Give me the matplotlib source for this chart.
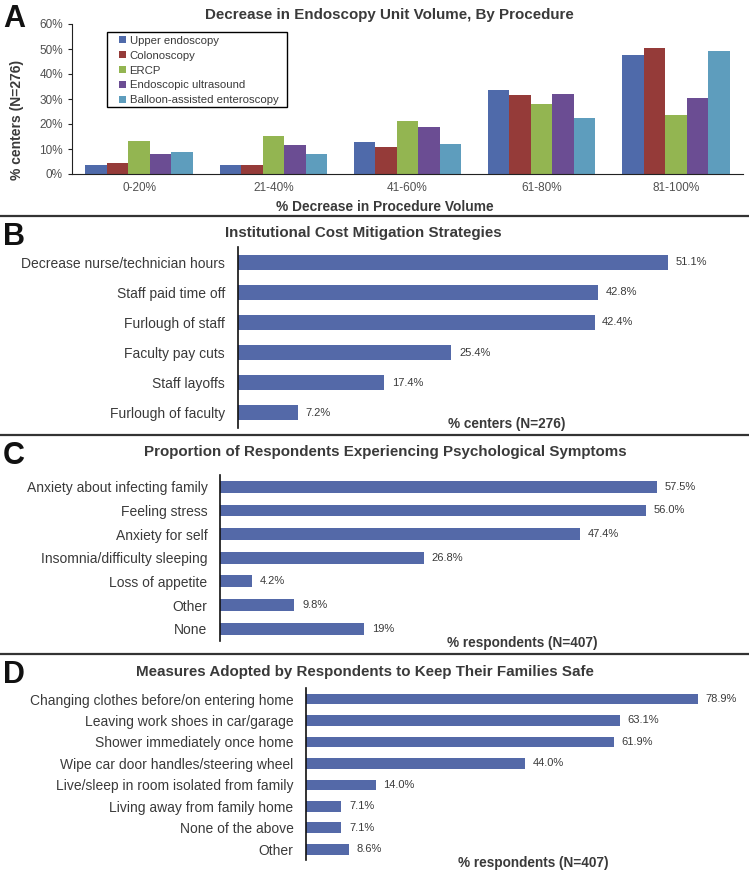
import matplotlib
matplotlib.use("Agg")
import matplotlib.pyplot as plt
from matplotlib.lines import Line2D
from matplotlib.patches import Rectangle
from matplotlib.ticker import PercentFormatter
import numpy as np

plt.rcParams['font.family'] = ['Liberation Sans', 'DejaVu Sans']

# ---------------- data ----------------
a_categories = ["0-20%", "21-40%", "41-60%", "61-80%", "81-100%"]
a_series = ["Upper endoscopy", "Colonoscopy", "ERCP", "Endoscopic ultrasound",
            "Balloon-assisted enteroscopy"]
a_upper = [3.4, 3.4, 12.7, 33.5, 47.5]
a_colon = [4.3, 3.5, 10.8, 31.5, 50.3]
a_ercp = [13.0, 15.1, 21.1, 28.0, 23.5]
a_eus = [7.8, 11.6, 18.8, 32.0, 30.3]
a_bae = [8.8, 8.1, 12.1, 22.3, 49.0]
a_colors = ["#4F6AAA", "#953B39", "#93B551", "#6B4D93", "#5E9DBD"]

b_labels = ["Decrease nurse/technician hours", "Staff paid time off", "Furlough of staff",
            "Faculty pay cuts", "Staff layoffs", "Furlough of faculty"]
b_values = [51.1, 42.8, 42.4, 25.4, 17.4, 7.2]
b_text = ["51.1%", "42.8%", "42.4%", "25.4%", "17.4%", "7.2%"]

c_labels = ["Anxiety about infecting family", "Feeling stress", "Anxiety for self",
            "Insomnia/difficulty sleeping", "Loss of appetite", "Other", "None"]
c_values = [57.5, 56.0, 47.4, 26.8, 4.2, 9.8, 19.0]
c_text = ["57.5%", "56.0%", "47.4%", "26.8%", "4.2%", "9.8%", "19%"]

d_labels = ["Changing clothes before/on entering home", "Leaving work shoes in car/garage",
            "Shower immediately once home", "Wipe car door handles/steering wheel",
            "Live/sleep in room isolated from family", "Living away from family home",
            "None of the above", "Other"]
d_values = [78.9, 63.1, 61.9, 44.0, 14.0, 7.1, 7.1, 8.6]
d_text = ["78.9%", "63.1%", "61.9%", "44.0%", "14.0%", "7.1%", "7.1%", "8.6%"]

BAR = "#5469A8"
TXT = "#3A3A3A"
TICK = "#505050"

W, H = 749, 872
fig = plt.figure(figsize=(W / 100, H / 100), dpi=100)


def axes_px(x0, y0, x1, y1):
    return fig.add_axes([x0 / W, 1 - y1 / H, (x1 - x0) / W, (y1 - y0) / H])


def ftext(x, y, s, **kw):
    fig.text(x / W, 1 - y / H, s, **kw)


def hline(y):
    fig.add_artist(Line2D([0, 1], [1 - y / H, 1 - y / H], color="#333333", lw=1.6,
                          transform=fig.transFigure))


def letter(y_base, s):
    ftext(3, y_base, s, fontsize=22, fontweight="bold", color="#111111", va="baseline")


TITLE_FS = 10.9

# ---------------- Panel A ----------------
A_X0, A_Y0, A_X1, A_Y1 = 72, 24, 743, 174
axA = axes_px(A_X0, A_Y0, A_X1, A_Y1)
x = np.arange(len(a_categories))
bw = 0.16
for i, (vals, col, name) in enumerate(zip([a_upper, a_colon, a_ercp, a_eus, a_bae],
                                          a_colors, a_series)):
    axA.bar(x + (i - 2) * bw, vals, width=bw, color=col, label=name)
axA.set_xlim(-0.5, len(a_categories) - 0.5)
axA.set_ylim(0, 60)
axA.set_yticks(np.arange(0, 61, 10))
axA.yaxis.set_major_formatter(PercentFormatter(decimals=0))
axA.set_xticks(x)
axA.set_xticklabels(a_categories)
axA.tick_params(axis="x", length=0, labelsize=8.5, colors=TICK, pad=6)
axA.tick_params(axis="y", length=3, labelsize=8.5, colors=TICK, direction="out")
axA.tick_params(axis="y", color="#222222")
for s in ["top", "right"]:
    axA.spines[s].set_visible(False)
axA.spines["left"].set_color("#222222")
axA.spines["bottom"].set_color("#222222")

# legend box (frame drawn separately to match the reference padding)
def ax_frac(px, py):
    return ((px - A_X0) / (A_X1 - A_X0), (A_Y1 - py) / (A_Y1 - A_Y0))

lx0, ly_top = ax_frac(107, 32)
lx1, ly_bot = ax_frac(287, 107)
axA.add_patch(Rectangle((lx0, ly_bot), lx1 - lx0, ly_top - ly_bot, transform=axA.transAxes,
                        facecolor="white", edgecolor="black", lw=1.0, zorder=4))
lgx, lgy = ax_frac(117, 33.5)
leg = axA.legend(loc="upper left", bbox_to_anchor=(lgx, lgy), borderaxespad=0,
                 fontsize=8.2, frameon=False,
                 handlelength=0.55, handleheight=0.55, handletextpad=0.35,
                 labelspacing=0.43, borderpad=0.2)
leg.set_zorder(5)
for t in leg.get_texts():
    t.set_color(TXT)

letter(27, "A")
ftext(389, 15, "Decrease in Endoscopy Unit Volume, By Procedure", fontsize=TITLE_FS,
      fontweight="bold", color=TXT, ha="center", va="center")
ftext(17, 120, "% centers (N=276)", fontsize=10, fontweight="bold", color=TXT,
      rotation=90, ha="center", va="center")
ftext(385, 207, "% Decrease in Procedure Volume", fontsize=9.9, fontweight="bold",
      color=TXT, ha="center", va="center")
hline(216)


# ---------------- horizontal bar panels ----------------
def hbar_panel(x0, y0, x1, y1, scale, labels, values, texts):
    ax = axes_px(x0, y0, x1, y1)
    pos = np.arange(len(labels))
    ax.barh(pos, values, height=0.5, color=BAR)
    ax.set_ylim(len(labels) - 0.5, -0.5)
    ax.set_xlim(0, (x1 - x0) / scale)
    ax.set_yticks(pos)
    ax.set_yticklabels(labels)
    ax.set_xticks([])
    ax.tick_params(axis="y", length=0, labelsize=10, colors=TXT, pad=9)
    for s in ["top", "right", "bottom"]:
        ax.spines[s].set_visible(False)
    ax.spines["left"].set_color("#111111")
    ax.spines["left"].set_linewidth(1.2)
    for p, v, t in zip(pos, values, texts):
        ax.annotate(t, (v, p), xytext=(5.5, 0), textcoords="offset points",
                    ha="left", va="center", fontsize=8, color=TXT)
    return ax


# Panel B
hbar_panel(237.5, 247, 740, 428, 8.42, b_labels, b_values, b_text)
letter(245, "B")
ftext(363, 233, "Institutional Cost Mitigation Strategies", fontsize=TITLE_FS,
      fontweight="bold", color=TXT, ha="center", va="center")
ftext(507, 424, "% centers (N=276)", fontsize=9.8, fontweight="bold", color=TXT,
      ha="center", va="center")
hline(435)

# Panel C
hbar_panel(220, 475, 740, 640.5, 7.6, c_labels, c_values, c_text)
letter(464, "C")
ftext(385, 452, "Proportion of Respondents Experiencing Psychological Symptoms",
      fontsize=TITLE_FS, fontweight="bold", color=TXT, ha="center", va="center")
ftext(522, 643, "% respondents (N=407)", fontsize=9.8, fontweight="bold", color=TXT,
      ha="center", va="center")
hline(654)

# Panel D
hbar_panel(306, 688.3, 745, 860, 4.97, d_labels, d_values, d_text)
letter(683, "D")
ftext(365, 672, "Measures Adopted by Respondents to Keep Their Families Safe",
      fontsize=TITLE_FS, fontweight="bold", color=TXT, ha="center", va="center")
ftext(533, 863, "% respondents (N=407)", fontsize=9.8, fontweight="bold", color=TXT,
      ha="center", va="center")

fig.savefig("out.png", dpi=100)
